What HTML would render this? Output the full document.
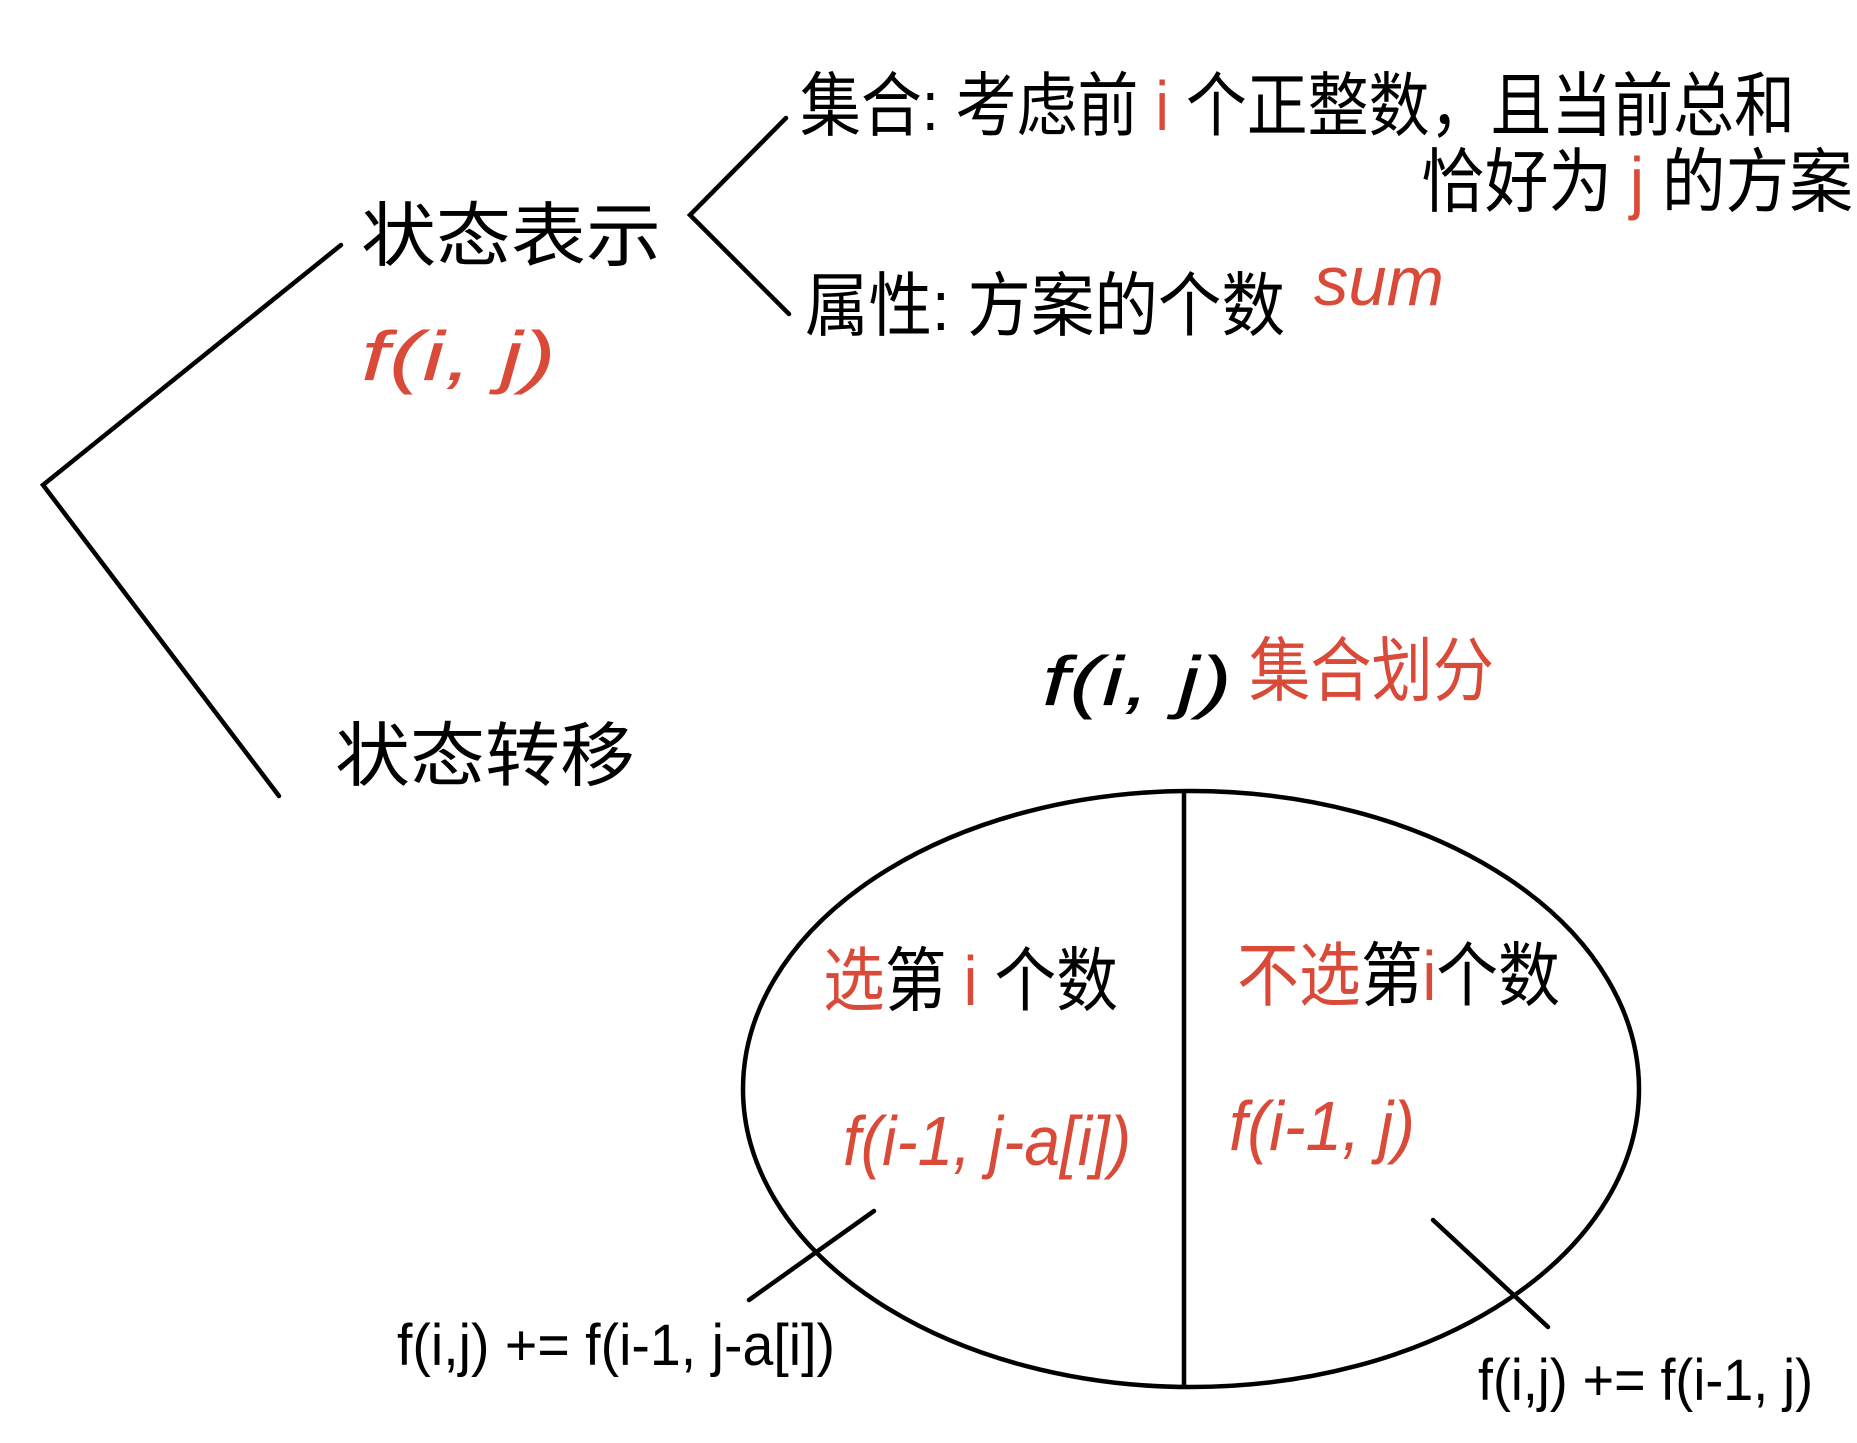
<!DOCTYPE html>
<html><head><meta charset="utf-8"><style>
html,body{margin:0;padding:0;background:#fff;}
svg{display:block;}
text{font-family:"Liberation Sans","Noto Sans CJK SC",sans-serif;}
.r{fill:#d94a38;}
</style></head><body>
<svg width="1857" height="1443" viewBox="0 0 1857 1443" xmlns="http://www.w3.org/2000/svg">
<g stroke="#000" stroke-width="4.5" fill="none" stroke-linecap="round">
<polyline points="341,245 43,485 279,796"/>
<polyline points="786,118 690,215 789,314"/>
<ellipse cx="1191" cy="1089" rx="448" ry="298"/>
<line x1="1184" y1="793" x2="1184" y2="1385"/>
<line x1="874" y1="1211" x2="749" y2="1300"/>
<line x1="1433" y1="1220" x2="1548" y2="1327"/>
</g>
<g font-size="70">
<text x="361" y="260" textLength="300" lengthAdjust="spacingAndGlyphs">状态表示</text>
<text class="r" x="361" y="380" textLength="195" lengthAdjust="spacingAndGlyphs" font-style="italic">f(i, j)</text>
<text x="800" y="130" textLength="995" lengthAdjust="spacingAndGlyphs">集合: 考虑前 <tspan class="r">i</tspan> 个正整数，且当前总和</text>
<text x="1421" y="206" textLength="432" lengthAdjust="spacingAndGlyphs">恰好为 <tspan class="r">j</tspan> 的方案</text>
<text x="805" y="330" textLength="480" lengthAdjust="spacingAndGlyphs">属性: 方案的个数</text>
<text class="r" x="1314" y="305" textLength="130" lengthAdjust="spacingAndGlyphs" font-style="italic">sum</text>
<text x="1042" y="705" textLength="190" lengthAdjust="spacingAndGlyphs" font-style="italic">f(i, j)</text>
<text class="r" x="1249" y="695" textLength="245" lengthAdjust="spacingAndGlyphs">集合划分</text>
<text x="335" y="780" textLength="300" lengthAdjust="spacingAndGlyphs">状态转移</text>
<text x="823" y="1005" textLength="295" lengthAdjust="spacingAndGlyphs"><tspan class="r">选</tspan>第 <tspan class="r">i</tspan> 个数</text>
<text x="1237" y="1000" textLength="323" lengthAdjust="spacingAndGlyphs"><tspan class="r">不选</tspan>第<tspan class="r">i</tspan>个数</text>
<text class="r" x="843" y="1165" textLength="288" lengthAdjust="spacingAndGlyphs" font-style="italic">f(i-1, j-a[i])</text>
<text class="r" x="1229" y="1150" textLength="186" lengthAdjust="spacingAndGlyphs" font-style="italic">f(i-1, j)</text>
</g>
<g font-size="58">
<text x="397" y="1365" textLength="438" lengthAdjust="spacingAndGlyphs">f(i,j) += f(i-1, j-a[i])</text>
<text x="1478" y="1400" textLength="335" lengthAdjust="spacingAndGlyphs">f(i,j) += f(i-1, j)</text>
</g>
</svg>
</body></html>
